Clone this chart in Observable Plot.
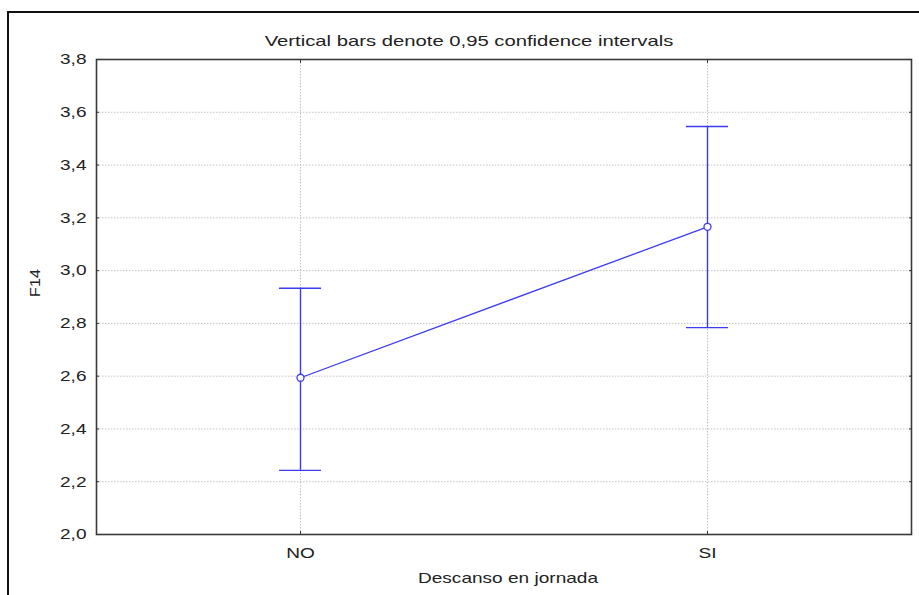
<!DOCTYPE html>
<html><head><meta charset="utf-8">
<script src="https://cdn.jsdelivr.net/npm/d3@7"></script>
<script src="https://cdn.jsdelivr.net/npm/@observablehq/plot@0.6"></script>
<style>
body{margin:0;background:#fff;}
#wrap{position:relative;width:919px;height:595px;overflow:hidden;}
#wrap svg{position:absolute;left:0;top:0;}
#border{position:absolute;left:7px;top:11px;width:930px;height:620px;border-left:2px solid #111;border-top:2px solid #111;pointer-events:none;}
</style></head><body><div id="wrap"><div id="border"></div></div>
<script>
const categories = ["NO", "SI"];
const means = [2.594, 3.166];
const lower = [2.243, 2.784];
const upper = [2.933, 3.546];
const yTicks = [2.0, 2.2, 2.4, 2.6, 2.8, 3.0, 3.2, 3.4, 3.6, 3.8];
const titleText = "Vertical bars denote 0,95 confidence intervals";
const xLabel = "Descanso en jornada";
const yLabel = "F14";

const data = categories.map((c, i) => ({cat: c, mean: means[i], lo: lower[i], hi: upper[i]}));
const blue = "#3b3bf0";
const fmt = d => d.toFixed(1).replace(".", ",");
const txt = {fill: "#222", fontSize: 15};

const chart = Plot.plot({
  width: 919, height: 595,
  marginLeft: 96, marginTop: 59, marginRight: 8, marginBottom: 61,
  style: {fontFamily: "'Liberation Sans', Arial, sans-serif", fontSize: "15px", color: "#222", background: "transparent"},
  x: {type: "point", domain: categories, padding: 0.5},
  y: {domain: [2.0, 3.8]},
  marks: [
    Plot.gridY({ticks: yTicks, stroke: "#c2c2c2", strokeOpacity: 1, strokeDasharray: "1.5,1.5"}),
    Plot.gridX({ticks: categories, stroke: "#c2c2c2", strokeOpacity: 1, strokeDasharray: "1.5,1.5"}),
    Plot.frame({stroke: "#3a3a3a", strokeWidth: 1.6}),
    Plot.axisY({ticks: yTicks, tickSize: -3, tickPadding: 13, tickFormat: fmt, label: null, stroke: "#333", ...txt, className: "stretch"}),
    Plot.axisY({ticks: yTicks, anchor: "right", tickSize: -3, tickFormat: () => "", label: null, stroke: "#333"}),
    Plot.axisX({ticks: categories, tickSize: -3, tickPadding: 16, label: null, stroke: "#333", ...txt}),
    Plot.axisX({ticks: categories, anchor: "top", tickSize: -3, tickFormat: () => "", label: null, stroke: "#333"}),
    Plot.ruleX(data, {x: "cat", y1: "lo", y2: "hi", stroke: blue, strokeWidth: 1.4}),
    Plot.ruleY(data, {x1: "cat", x2: "cat", y: "lo", insetLeft: -21, insetRight: -21, stroke: blue, strokeWidth: 1.4}),
    Plot.ruleY(data, {x1: "cat", x2: "cat", y: "hi", insetLeft: -21, insetRight: -21, stroke: blue, strokeWidth: 1.4}),
    Plot.line(data, {x: "cat", y: "mean", stroke: blue, strokeWidth: 1.3}),
    Plot.dot(data, {x: "cat", y: "mean", r: 3.5, fill: "white", stroke: blue, strokeWidth: 1.3}),
    Plot.text([titleText], {frameAnchor: "top", dy: -24, dx: -35, ...txt, className: "ttl"}),
    Plot.text([xLabel], {frameAnchor: "bottom", dy: 48, dx: 4, ...txt}),
    Plot.text([yLabel], {frameAnchor: "left", dx: -61, rotate: -90, ...txt, className: "ylab"})
  ]
});
document.getElementById("wrap").prepend(chart);

// horizontal stretch of the glyphs, as in the reference rendering
d3.select(chart).selectAll("text").each(function() {
  const el = this;
  const g = el.closest("g");
  let f = 1.27;
  if (g && g.getAttribute("class") && g.getAttribute("class").includes("ttl")) f = 1.35;
  if (g && g.getAttribute("class") && g.getAttribute("class").includes("ylab")) f = 1.08;
  const len = el.getComputedTextLength();
  if (len > 0) {
    el.setAttribute("textLength", len * f);
    el.setAttribute("lengthAdjust", "spacingAndGlyphs");
  }
});
</script>
</body></html>
